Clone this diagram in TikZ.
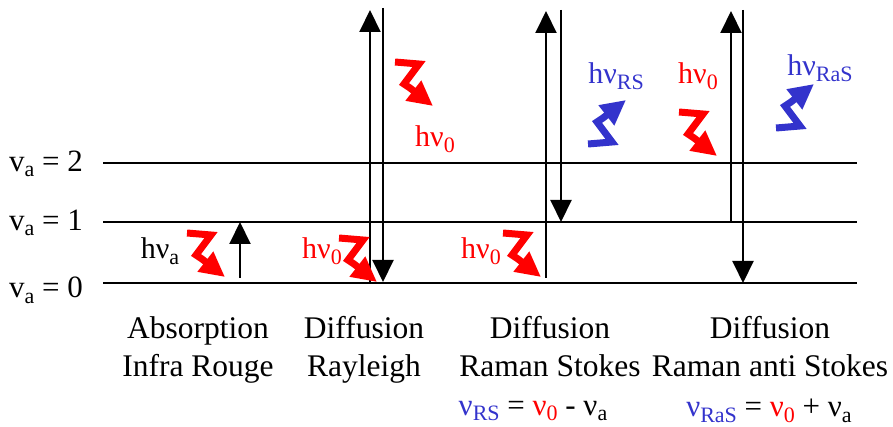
\documentclass[tikz,border=0pt]{standalone}
\usepackage{fontspec}
\setmainfont{Liberation Serif}
\usetikzlibrary{arrows.meta}
\definecolor{wred}{RGB}{255,0,0}
\definecolor{wblue}{RGB}{51,51,204}
\newcommand{\lsub}[1]{\raisebox{-0.4ex}{\fontsize{22}{22}\selectfont #1}}
\tikzset{
  squig/.pic={\draw[line width=7pt, line join=miter, draw=#1,
      -{Triangle[length=25pt,width=24pt,fill=#1]}]
      (0,5) -- (24,7) -- (9,27) -- (15,31) -- (38,49);}
}
\begin{document}
\begin{tikzpicture}[x=1pt,y=-1pt,
  level/.style={line width=2pt},
  trans/.style={line width=2pt,-{Triangle[length=22pt,width=21pt]}},
  lbl/.style={font=\fontsize{31}{38}\selectfont, inner sep=0pt},
  hlbl/.style={font=\fontsize{30}{34}\selectfont, inner sep=0pt},
  captext/.style={font=\fontsize{31.5}{38}\selectfont, inner sep=0pt, align=center}
]
\useasboundingbox (0,0) rectangle (893,427);

% energy levels
\coordinate (l2a) at (103,163); \coordinate (l2b) at (857,163);
\coordinate (l1a) at (103,222); \coordinate (l1b) at (857,222);
\coordinate (l0a) at (103,283); \coordinate (l0b) at (857,283);
\draw[level] (l2a) -- (l2b);
\draw[level] (l1a) -- (l1b);
\draw[level] (l0a) -- (l0b);

\node[lbl, anchor=west] (va2) at (9,164) {v\lsub{a} = 2};
\node[lbl, anchor=west] (va1) at (9,223) {v\lsub{a} = 1};
\node[lbl, anchor=west] (va0) at (9,290) {v\lsub{a} = 0};

% absorption
\coordinate (abs0) at (240,278); \coordinate (abs1) at (240,222);
\draw[trans] (abs0) -- (abs1);

% Rayleigh
\coordinate (ray0) at (370,283); \coordinate (ray1) at (370,10);
\coordinate (ray2) at (383,8); \coordinate (ray3) at (383,282);
\draw[trans] (ray0) -- (ray1);
\draw[trans] (ray2) -- (ray3);

% Raman Stokes
\coordinate (rs0) at (546,278); \coordinate (rs1) at (546,11);
\coordinate (rs2) at (561,10); \coordinate (rs3) at (561,222);
\draw[trans] (rs0) -- (rs1);
\draw[trans] (rs2) -- (rs3);

% Raman anti Stokes
\coordinate (ras0) at (731,222); \coordinate (ras1) at (731,11);
\coordinate (ras2) at (743,10); \coordinate (ras3) at (743,283);
\draw[trans] (ras0) -- (ras1);
\draw[trans] (ras2) -- (ras3);

% photons
\pic at (187,228) {squig=wred};
\pic at (339,233) {squig=wred};
\pic at (395,57) {squig=wred};
\pic at (503,228) {squig=wred};
\pic at (679,107) {squig=wred};
\pic[yscale=-1] at (588,149) {squig=wblue};
\pic[yscale=-1] at (776,133) {squig=wblue};

\node[hlbl] (hva) at (160,251) {hν\lsub{a}};
\node[hlbl, text=wred] (h0a) at (322,251) {hν\lsub{0}};
\node[hlbl, text=wred] (h0b) at (435,139) {hν\lsub{0}};
\node[hlbl, text=wred] (h0c) at (481,251) {hν\lsub{0}};
\node[hlbl, text=wred] (h0d) at (698,76) {hν\lsub{0}};
\node[hlbl, text=wblue] (hrs) at (616,76) {hν\lsub{RS}};
\node[hlbl, text=wblue] (hras) at (820,68) {hν\lsub{RaS}};

% captions
\node[captext] (c1) at (198,350) {Absorption\strut\\Infra Rouge\strut};
\node[captext] (c2) at (364,350) {Diffusion\strut\\Rayleigh\strut};
\node[captext] (c3) at (550,350) {Diffusion\strut\\Raman Stokes\strut};
\node[captext] (c4) at (770,350) {Diffusion\strut\\Raman anti Stokes\strut};

\node[lbl] (eq1) at (533,411) {\textcolor{wblue}{ν\lsub{RS}} = \textcolor{wred}{ν\lsub{0}} - ν\lsub{a}};
\node[lbl] (eq2) at (769,411) {\textcolor{wblue}{ν\lsub{RaS}} = \textcolor{wred}{ν\lsub{0}} + ν\lsub{a}};
\end{tikzpicture}
\end{document}
